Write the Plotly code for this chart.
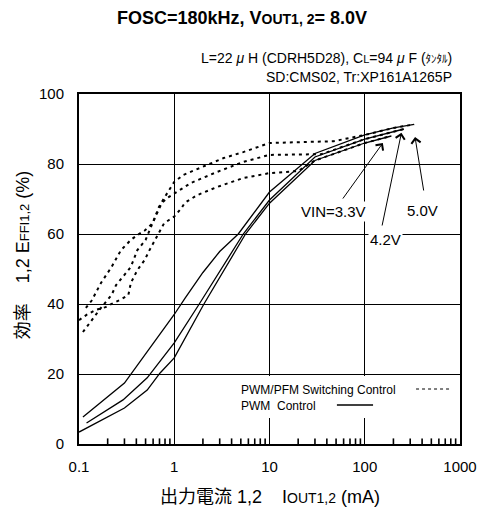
import plotly.graph_objects as go

# ---------------- data ----------------
# PWM control (solid)
pwm_50_x = [0.11, 0.3, 1.0, 1.3, 2.0, 3.0, 4.7, 10, 30, 100, 200, 330]
pwm_50_y = [7.7, 17.4, 37.0, 41.7, 49.0, 55.0, 60.0, 72.0, 83.0, 88.3, 90.3, 91.3]

pwm_42_x = [0.12, 0.29, 0.52, 1.0, 1.83, 5.3, 10, 30, 100, 258]
pwm_42_y = [6.0, 12.6, 18.9, 28.9, 40.0, 60.0, 69.7, 82.0, 87.1, 90.0]

pwm_33_x = [0.1, 0.3, 0.52, 0.71, 1.0, 2.05, 5.6, 10, 30, 100, 190]
pwm_33_y = [3.4, 10.3, 15.4, 20.3, 24.6, 40.0, 60.0, 68.8, 81.0, 86.0, 88.0]

# PWM/PFM switching control (dotted)
pfm_50_x = [0.118, 0.136, 0.17, 0.22, 0.276, 0.35, 0.41, 0.49, 0.59, 0.69, 0.78, 0.88,
            1.0, 1.25, 1.87, 3.3, 5.3, 10, 47, 100, 200, 330]
pfm_50_y = [38.9, 41.0, 46.0, 50.6, 55.4, 58.3, 59.7, 61.0, 63.0, 67.7, 70.2, 72.6,
            74.9, 76.9, 78.9, 81.7, 83.4, 86.0, 86.5, 88.3, 90.3, 91.3]

pfm_42_x = [0.11, 0.13, 0.15, 0.17, 0.22, 0.245, 0.31, 0.35, 0.41, 0.5, 0.59, 0.66, 0.74,
            0.88, 1.0, 1.5, 2.8, 5.3, 10, 35, 100, 258]
pfm_42_y = [32.0, 34.6, 37.0, 38.9, 42.6, 45.4, 48.8, 50.6, 55.4, 58.3, 63.0, 66.0, 68.9,
            70.6, 71.5, 74.6, 77.7, 80.6, 82.6, 82.8, 87.1, 90.0]

pfm_33_x = [0.1, 0.12, 0.15, 0.19, 0.23, 0.28, 0.33, 0.35, 0.41, 0.49, 0.55, 0.63, 0.71,
            0.78, 0.88, 1.0, 1.19, 1.29, 1.74, 2.8, 5.3, 10, 20, 30, 100, 190]
pfm_33_y = [35.4, 36.9, 38.3, 39.1, 40.3, 41.4, 42.6, 46.0, 49.7, 52.6, 55.4, 58.3, 60.6,
            63.0, 64.0, 65.0, 67.4, 68.9, 71.1, 73.4, 76.0, 77.4, 78.0, 81.0, 86.0, 88.0]

x_tickvals = [0.1, 1, 10, 100, 1000]
x_ticktext = ["0.1", "1", "10", "100", "1000"]
y_tickvals = [0, 20, 40, 60, 80, 100]
minor_tickvals = [m * 10.0 ** e for e in range(-1, 3) for m in range(2, 10)]

FONT = "Liberation Sans, Arial, Noto Sans CJK JP, sans-serif"

fig = go.Figure()

solid = dict(color="black", width=1.3)
dotted = dict(color="black", width=2, dash="3px,4px")

for xs, ys in [(pwm_50_x, pwm_50_y), (pwm_42_x, pwm_42_y), (pwm_33_x, pwm_33_y)]:
    fig.add_trace(go.Scatter(x=xs, y=ys, mode="lines", line=solid, showlegend=False,
                             hoverinfo="skip"))
for xs, ys in [(pfm_50_x, pfm_50_y), (pfm_42_x, pfm_42_y), (pfm_33_x, pfm_33_y)]:
    fig.add_trace(go.Scatter(x=xs, y=ys, mode="lines", line=dotted, showlegend=False,
                             hoverinfo="skip"))

fig.update_layout(
    xaxis=dict(type="log", range=[-1, 3], tickmode="array",
               tickvals=x_tickvals, ticktext=x_ticktext,
               showgrid=True, gridcolor="black", gridwidth=1,
               showline=True, linecolor="black", linewidth=2, mirror=True,
               ticks="", tickfont=dict(size=15, color="black", family=FONT),
               ticklabelstandoff=8, zeroline=False),
    yaxis=dict(range=[0, 100], tickvals=y_tickvals,
               showgrid=True, gridcolor="black", gridwidth=1,
               showline=True, linecolor="black", linewidth=2, mirror=True,
               ticks="", tickfont=dict(size=15, color="black", family=FONT),
               ticklabelstandoff=10, zeroline=False),
)

def px2paper(px, py):
    return (px - 79) / 390.0, (444 - py) / 350.0

def txt(px, py, text, size, xanchor="center", **kw):
    x, y = px2paper(px, py)
    return dict(x=x, y=y, xref="paper", yref="paper", showarrow=False,
                xanchor=xanchor, yanchor="middle", text=text,
                font=dict(size=size, color="black", family=FONT), **kw)

ann = []
ann.append(txt(246, 18, "<b>FOSC=180kHz, V<span style='font-size:14px'>OUT1, 2</span>= 8.0V</b>", 18))
ann.append(txt(463, 58, "L=22\u00a0<i>μ</i>\u00a0H (CDRH5D28), C<span style='font-size:11px'>L</span>=94\u00a0<i>μ</i>\u00a0F (<span style='font-size:11px'>ﾀﾝﾀﾙ</span>)",
               14, xanchor="right"))
ann.append(txt(463, 77, "SD:CMS02, Tr:XP161A1265P", 14, xanchor="right"))
ann.append(txt(22, 255, "効率\u00a0\u00a0\u00a0\u00a01,2\u00a0E<span style='font-size:13px'>FFI1,2</span>\u00a0(%)",
               18, textangle=-90))
ann.append(txt(275, 497, "出力電流\u00a01,2\u00a0\u00a0\u00a0\u00a0I<span style='font-size:14px'>OUT1,2</span>\u00a0(mA)", 18))

# Vin labels and arrows (log10 x positions)
arrow_specs = [  # tip x(log), tip y, tail x(log), tail y
    (2.190, 86.0, 1.759, 69.7),
    (2.385, 88.9, 2.179, 62.0),
    (2.528, 87.7, 2.621, 72.0),
]
for tx, ty, ax_, ay_ in arrow_specs:
    ann.append(dict(x=tx, y=ty, ax=ax_, ay=ay_, xref="x", yref="y", axref="x", ayref="y",
                    text="", showarrow=True, arrowhead=4, arrowsize=1.8, arrowwidth=1.0,
                    arrowcolor="black"))
label_specs = [("VIN=3.3V", 1.677, 66.3), ("4.2V", 2.221, 58.3), ("5.0V", 2.610, 66.6)]
for t, lx, ly in label_specs:
    ann.append(dict(x=lx, y=ly, xref="x", yref="y", text=t, showarrow=False,
                    xanchor="center", yanchor="middle", bgcolor="white", borderpad=1,
                    font=dict(size=15, color="black", family=FONT)))

# Legend (text left, sample right)
ann.append(txt(243, 390, "PWM/PFM Switching Control", 12, xanchor="left"))
ann.append(txt(243, 406, "PWM\u00a0\u00a0Control", 12, xanchor="left"))

shapes = []
# minor ticks drawn as short lines up from the bottom axis
for v in minor_tickvals:
    shapes.append(dict(type="line", xref="x", yref="y", x0=v, x1=v, y0=0, y1=1.6,
                       line=dict(color="black", width=1.6), layer="above"))
rx0, ry0 = px2paper(236, 418)
rx1, ry1 = px2paper(467, 376)
shapes.append(dict(type="rect", xref="paper", yref="paper", x0=rx0, y0=ry0, x1=rx1, y1=ry1,
                   fillcolor="white", line=dict(width=0), layer="above"))
a0, b0 = px2paper(424, 389)
a1, _ = px2paper(460, 389)
shapes.append(dict(type="line", xref="paper", yref="paper", x0=a0, y0=b0, x1=a1, y1=b0,
                   line=dict(color="black", width=1, dash="dot"), layer="above"))
a0, b0 = px2paper(343, 405)
a1, _ = px2paper(380, 405)
shapes.append(dict(type="line", xref="paper", yref="paper", x0=a0, y0=b0, x1=a1, y1=b0,
                   line=dict(color="black", width=1.3), layer="above"))

fig.update_layout(width=489, height=516, margin=dict(l=79, r=20, t=94, b=72),
                  paper_bgcolor="white", plot_bgcolor="white",
                  annotations=ann, shapes=shapes, showlegend=False,
                  font=dict(family=FONT, color="black"))

fig.write_html("out.html")
